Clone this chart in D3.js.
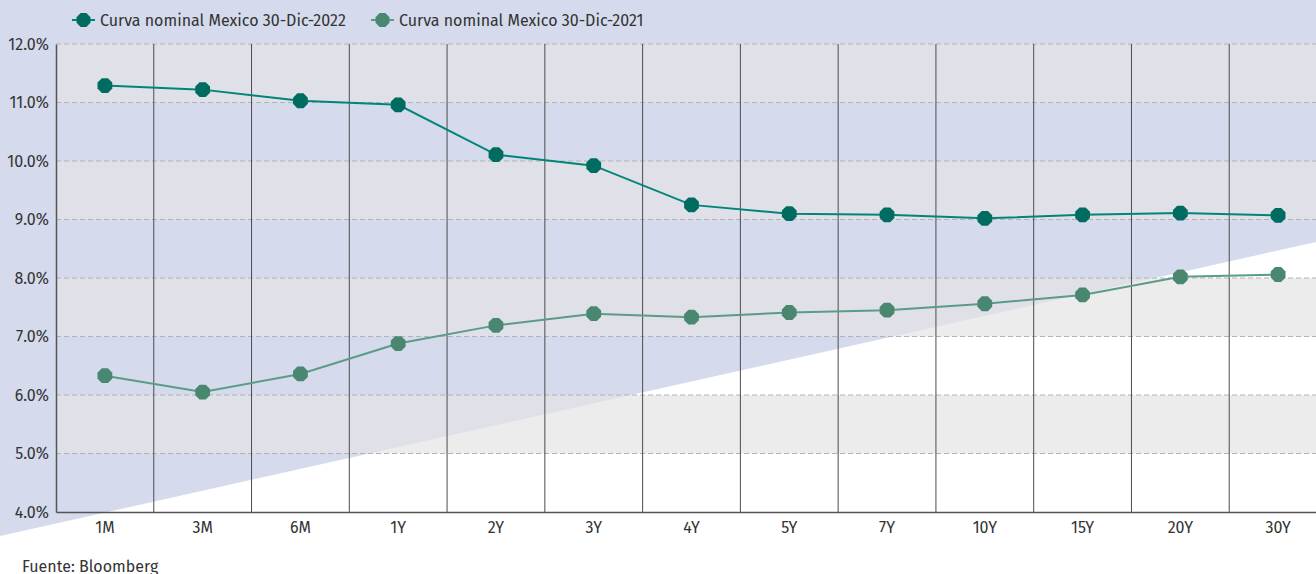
<!DOCTYPE html>
<html>
<head>
<meta charset="utf-8">
<script src="https://cdn.jsdelivr.net/npm/d3@7"></script>
<style>
body { margin: 0; background: #fff; }
svg { display: block; font-family: "Fira Sans", "Open Sans", "Noto Sans", sans-serif; }
</style>
</head>
<body>
<script>
var plazos = ["1M","3M","6M","1Y","2Y","3Y","4Y","5Y","7Y","10Y","15Y","20Y","30Y"];
var curva2022 = [11.29, 11.22, 11.03, 10.96, 10.11, 9.92, 9.25, 9.10, 9.08, 9.02, 9.08, 9.11, 9.07];
var curva2021 = [6.33, 6.05, 6.36, 6.88, 7.19, 7.39, 7.33, 7.41, 7.45, 7.56, 7.71, 8.02, 8.06];
var yTicks = [4, 5, 6, 7, 8, 9, 10, 11, 12];
var series = [
  { name: "Curva nominal Mexico 30-Dic-2022", values: curva2022, line: "#00857a", marker: "#006b60" },
  { name: "Curva nominal Mexico 30-Dic-2021", values: curva2021, line: "#5a9c86", marker: "#4a8770" }
];

var width = 1316, height = 574;
var plotLeft = 56, plotTop = 44, plotBottom = 512, plotRight = 1327;

var svg = d3.select("body").append("svg")
  .attr("width", width)
  .attr("height", height);

// fondo lavanda con triangulo blanco
svg.append("rect").attr("width", width).attr("height", height).attr("fill", "#d5daed");
svg.append("path")
  .attr("d", "M0,536 L" + width + ",242 L" + width + "," + height + " L0," + height + " Z")
  .attr("fill", "#ffffff");

var x = d3.scaleBand().domain(plazos).range([plotLeft, plotRight]);
var y = d3.scaleLinear().domain([4, 12]).range([plotBottom, plotTop]);

// bandas alternas (5-6, 7-8, 9-10, 11-12)
var bandas = [];
for (var i = 0; i < yTicks.length - 1; i++) {
  if (i % 2 == 1) bandas.push(yTicks[i]);
}
svg.selectAll(".banda")
  .data(bandas)
  .enter()
  .append("rect")
  .attr("class", "banda")
  .attr("x", plotLeft)
  .attr("width", plotRight - plotLeft)
  .attr("y", function(d) { return y(d + 1); })
  .attr("height", function(d) { return y(d) - y(d + 1); })
  .attr("fill", "rgba(228,228,230,0.7)");

// rejilla horizontal
svg.selectAll(".hgrid")
  .data(yTicks.slice(1))
  .enter()
  .append("line")
  .attr("x1", plotLeft).attr("x2", plotRight)
  .attr("y1", function(d) { return y(d); })
  .attr("y2", function(d) { return y(d); })
  .attr("stroke", "#b3b3b3")
  .attr("stroke-dasharray", "5,3");

// lineas verticales
svg.selectAll(".vgrid")
  .data(plazos.slice(1))
  .enter()
  .append("line")
  .attr("x1", function(d) { return x(d); })
  .attr("x2", function(d) { return x(d); })
  .attr("y1", plotTop).attr("y2", plotBottom)
  .attr("stroke", "#4d4d4d")
  .attr("stroke-width", 1);

// ejes
var xAxis = svg.append("g")
  .attr("transform", "translate(0," + plotBottom + ")")
  .call(d3.axisBottom(x).tickSize(0).tickPadding(10));
xAxis.attr("font-family", null);
xAxis.select(".domain").attr("stroke", "#555").attr("stroke-width", 1.5);
xAxis.selectAll("text").attr("font-size", 16).attr("fill", "#333");

var yAxis = svg.append("g")
  .attr("transform", "translate(" + plotLeft + ",0)")
  .call(d3.axisLeft(y).tickValues(yTicks).tickSize(0).tickPadding(7)
    .tickFormat(function(d) { return d.toFixed(1) + "%"; }));
yAxis.attr("font-family", null);
yAxis.select(".domain").attr("stroke", "#555").attr("stroke-width", 1.5);
yAxis.selectAll("text").attr("font-size", 16).attr("fill", "#333");

function octagon(r) {
  var pts = [];
  for (var k = 0; k < 8; k++) {
    var a = Math.PI / 8 + k * Math.PI / 4;
    pts.push([r * Math.cos(a), r * Math.sin(a)]);
  }
  return "M" + pts.join("L") + "Z";
}

var line = d3.line()
  .x(function(d, i) { return x(plazos[i]) + x.bandwidth() / 2; })
  .y(function(d) { return y(d); });

series.forEach(function(s) {
  svg.append("path")
    .datum(s.values)
    .attr("d", line)
    .attr("fill", "none")
    .attr("stroke", s.line)
    .attr("stroke-width", 2);

  svg.selectAll(null)
    .data(s.values)
    .enter()
    .append("path")
    .attr("d", octagon(8))
    .attr("transform", function(d, i) {
      return "translate(" + (x(plazos[i]) + x.bandwidth() / 2) + "," + y(d) + ")";
    })
    .attr("fill", s.marker);
});

// leyenda
var legendX = [72, 371];
series.forEach(function(s, i) {
  var g = svg.append("g").attr("transform", "translate(" + legendX[i] + ",20)");
  g.append("line").attr("x1", 0).attr("x2", 23).attr("stroke", s.line).attr("stroke-width", 2);
  g.append("path").attr("d", octagon(7.5)).attr("transform", "translate(11.5,0)").attr("fill", s.marker);
  g.append("text").attr("x", 28).attr("y", 6).attr("font-size", 16).attr("fill", "#333").text(s.name);
});

svg.append("text")
  .attr("x", 22).attr("y", 572)
  .attr("font-size", 16).attr("fill", "#333")
  .text("Fuente: Bloomberg");
</script>
</body>
</html>
